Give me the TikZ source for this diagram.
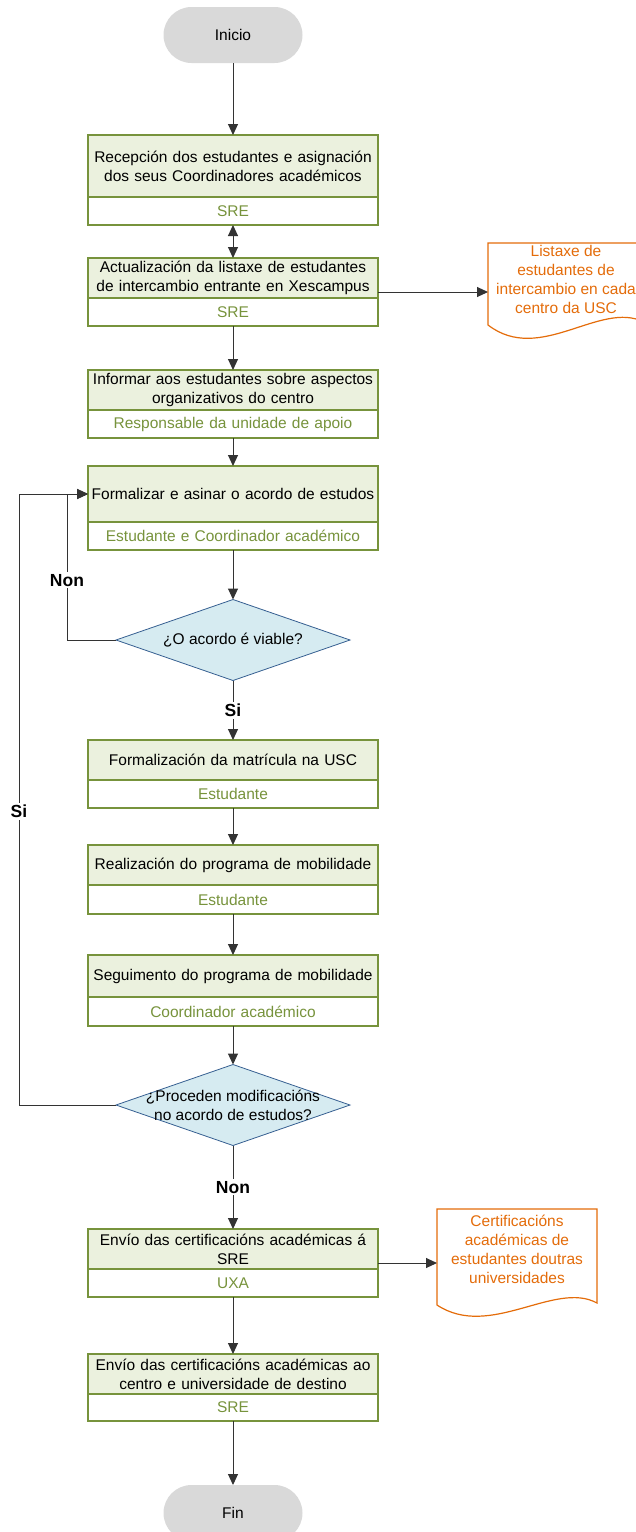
\documentclass[tikz,border=0pt]{standalone}
\usepackage{fontspec}
\setmainfont{Liberation Sans}
\usetikzlibrary{arrows.meta,shapes.geometric}
\definecolor{gborder}{RGB}{119,147,60}
\definecolor{gfill}{RGB}{235,241,222}
\definecolor{tgray}{RGB}{217,217,217}
\definecolor{dfill}{RGB}{214,235,241}
\definecolor{dborder}{RGB}{54,95,145}
\definecolor{dorange}{RGB}{228,108,10}
\begin{document}
\begin{tikzpicture}[x=1pt,y=-1pt,
  font=\fontsize{15.5}{19}\selectfont,
  boxtop/.style={rectangle, draw=gborder, fill=gfill, line width=1.8pt, minimum width=290pt, text width=286pt, align=center, anchor=north, inner sep=0pt, outer sep=0pt},
  boxsub/.style={rectangle, draw=gborder, fill=white, line width=1.8pt, minimum width=290pt, minimum height=28pt, text width=286pt, align=center, anchor=north, inner sep=0pt, outer sep=0pt, text=gborder},
  term/.style={rectangle, rounded corners=28pt, fill=tgray, minimum width=139pt, minimum height=56pt, outer sep=0pt},
  decision/.style={diamond, draw=dborder, fill=dfill, minimum width=234pt, minimum height=81pt, inner sep=0pt, outer sep=0pt, line width=0.8pt},
  conn/.style={draw=black!80, line width=1pt, -{Triangle[length=11pt,width=10pt]}},
  dconn/.style={draw=black!80, line width=1pt, {Triangle[length=11pt,width=10pt]}-{Triangle[length=11pt,width=10pt]}},
  ylabel/.style={font=\fontsize{17.5}{20}\selectfont\bfseries, fill=white, inner sep=2pt},
  docshape/.style={draw=dorange, line width=1.2pt, fill=white},
  doctext/.style={text=dorange, align=center, inner sep=0pt}
]
\useasboundingbox (0,0) rectangle (636,1532);

% terminals
\node[term] (t0) at (233,35) {Inicio};
\node[term] (t1) at (233,1513) {Fin};

% process boxes
\node[boxtop, minimum height=62pt] (b1) at (233,135) {Recepción dos estudantes e asignación\\dos seus Coordinadores académicos};
\node[boxsub] (b1s) at (b1.south) {SRE};

\node[boxtop, minimum height=40pt] (b2) at (233,258) {Actualización da listaxe de estudantes\\de intercambio entrante en Xescampus};
\node[boxsub] (b2s) at (b2.south) {SRE};

\node[boxtop, minimum height=40pt] (b3) at (233,370) {Informar aos estudantes sobre aspectos\\organizativos do centro};
\node[boxsub] (b3s) at (b3.south) {Responsable da unidade de apoio};

\node[boxtop, minimum height=56pt] (b4) at (233,466) {Formalizar e asinar o acordo de estudos};
\node[boxsub] (b4s) at (b4.south) {Estudante e Coordinador académico};

\node[decision] (q1) at (233,640) {};
\node[align=center] (q1t) at (q1.center) {¿O acordo é viable?};

\node[boxtop, minimum height=40pt] (b5) at (233,740) {Formalización da matrícula na USC};
\node[boxsub] (b5s) at (b5.south) {Estudante};

\node[boxtop, minimum height=40pt] (b6) at (233,845) {Realización do programa de mobilidade};
\node[boxsub, minimum height=29pt] (b6s) at (b6.south) {Estudante};

\node[boxtop, minimum height=42pt] (b7) at (233,955) {Seguimento do programa de mobilidade};
\node[boxsub, minimum height=29pt] (b7s) at (b7.south) {Coordinador académico};

\node[decision] (q2) at (233,1105) {};
\node[align=center] (q2t) at (q2.center) {¿Proceden modificacións\\no acordo de estudos?};

\node[boxtop, minimum height=40pt] (b8) at (233,1229) {Envío das certificacións académicas á\\SRE};
\node[boxsub] (b8s) at (b8.south) {UXA};

\node[boxtop, minimum height=40pt] (b9) at (233,1354) {Envío das certificacións académicas ao\\centro e universidade de destino};
\node[boxsub, minimum height=27pt] (b9s) at (b9.south) {SRE};

% documents
\draw[docshape] (488,243) -- (644,243) -- (644,322) .. controls (600,300) and (540,365) .. (488,325) -- cycle;
\node[doctext] (d1) at (566,279.5) {Listaxe de\\estudantes de\\intercambio en cada\\centro da USC};
\coordinate (d1w) at (488,292);

\draw[docshape] (437,1209) -- (597,1209) -- (597,1303) .. controls (555,1280) and (490,1340) .. (437,1305) -- cycle;
\node[doctext] (d2) at (517,1249.5) {Certificacións\\académicas de\\estudantes doutras\\universidades};
\coordinate (d2w) at (437,1263);

% loop corners
\coordinate (c1) at (67,494);
\coordinate (c2) at (19,494);

% connectors
\draw[conn] (t0.south) -- (b1.north);
\draw[dconn] (b1s.south) -- (b2.north);
\draw[conn] (b2.east |- d1w) -- (d1w);
\draw[conn] (b2s.south) -- (b3.north);
\draw[conn] (b3s.south) -- (b4.north);
\draw[conn] (b4s.south) -- (q1.north);
\draw[conn] (q1.south) -- node[ylabel, pos=0.5] (l1) {Si} (b5.north);
\draw[conn] (q1.west) -| node[ylabel, pos=0.705] (l2) {Non} (c1) -- (b4.west);
\draw[conn] (b5s.south) -- (b6.north);
\draw[conn] (b6s.south) -- (b7.north);
\draw[conn] (b7s.south) -- (q2.north);
\draw[conn] (q2.south) -- node[ylabel, pos=0.5] (l3) {Non} (b8.north);
\draw[conn] (q2.west) -| node[ylabel, pos=0.74] (l4) {Si} (c2) -- (b4.west);
\draw[conn] (b8.east |- d2w) -- (d2w);
\draw[conn] (b8s.south) -- (b9.north);
\draw[conn] (b9s.south) -- (t1.north);
\end{tikzpicture}
\end{document}
